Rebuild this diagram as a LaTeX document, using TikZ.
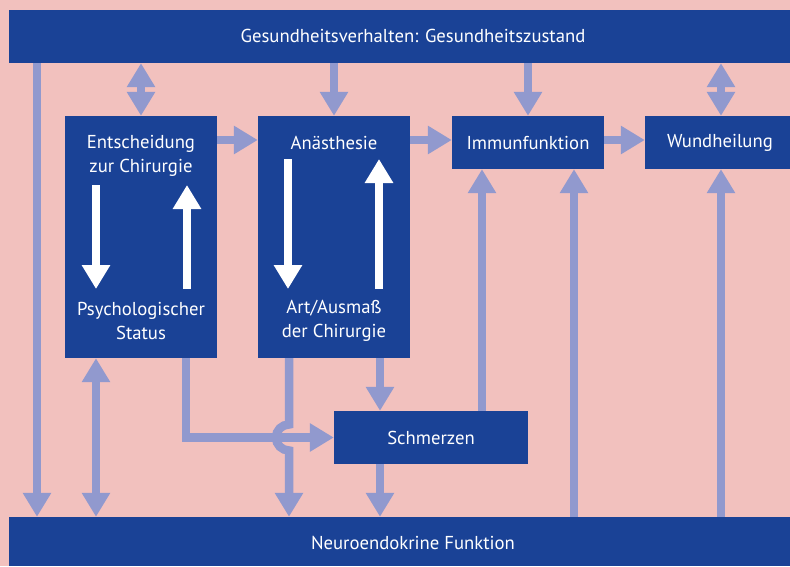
\documentclass[tikz,border=0pt]{standalone}
\usepackage{fontspec}
\setmainfont{PT Sans}
\usetikzlibrary{arrows.meta}
\definecolor{bg}{RGB}{242,193,190}
\definecolor{dblue}{RGB}{26,66,150}
\definecolor{arrc}{RGB}{145,153,206}
\tikzset{
  box/.style={fill=dblue, draw=none, inner sep=0pt},
  lbl/.style={text=white, font=\fontsize{18.7}{24.5}\selectfont, align=center, inner sep=0pt},
  conn/.style={draw=arrc, line width=8.5pt, -{Triangle[width=27pt,length=24pt]}},
  dconn/.style={draw=arrc, line width=8.5pt, {Triangle[width=27pt,length=24pt]}-{Triangle[width=27pt,length=24pt]}},
  wconn/.style={draw=white, line width=8pt, -{Triangle[width=27pt,length=24pt]}},
}
\begin{document}
\begin{tikzpicture}[x=1pt,y=-1pt]
\useasboundingbox (0,0) rectangle (790,566);
\fill[bg] (0,0) rectangle (790,566);
% boxes
\node[box, minimum width=781pt, minimum height=53pt] (top) at (399.5,36.5) {};
\node[box, minimum width=781pt, minimum height=49pt] (bot) at (399.5,541.5) {};
\node[box, minimum width=152pt, minimum height=242pt] (entsch) at (141,237) {};
\node[box, minimum width=152pt, minimum height=242pt] (anae) at (334,237) {};
\node[box, minimum width=152pt, minimum height=53pt] (immun) at (528,142.5) {};
\node[box, minimum width=145pt, minimum height=53pt] (wund) at (717.5,142.5) {};
\node[box, minimum width=194pt, minimum height=53pt] (schm) at (431,437.5) {};
% texts
\node[lbl] (tTop) at (413,36) {Gesundheitsverhalten: Gesundheitszustand};
\node[lbl] (tBot) at (413,543) {Neuroendokrine Funktion};
\node[lbl] (tE) at (141,156) {Entscheidung\\zur Chirurgie};
\node[lbl] (tP) at (141,321) {Psychologischer\\Status};
\node[lbl] (tA) at (334,143) {Anästhesie};
\node[lbl] (tR) at (334,321) {Art/Ausmaß\\der Chirurgie};
\node[lbl] (tI) at (528,143) {Immunfunktion};
\node[lbl] (tW) at (720,143) {Wundheilung};
\node[lbl] (tS) at (431,438) {Schmerzen};
% helper coordinates
\coordinate (x37) at (37,0);
\coordinate (x96) at (96,0);
\coordinate (x186) at (186,0);
\coordinate (x187) at (187,0);
\coordinate (x288) at (288,0);
\coordinate (x289) at (289,0);
\coordinate (x379) at (379,0);
\coordinate (x380) at (380,0);
\coordinate (x482) at (482,0);
\coordinate (x574) at (574,0);
\coordinate (x721) at (721,0);
\coordinate (yh) at (0,140);
\coordinate (wtopE) at (0,185);
\coordinate (wtopA) at (0,159);
\coordinate (wbot) at (0,289);
% blue connectors
\draw[conn] (top.south -| x37) -- (bot.north -| x37);
\draw[dconn] (top.south -| entsch.north) -- (entsch.north);
\draw[conn] (top.south -| anae.north) -- (anae.north);
\draw[conn] (top.south -| immun.north) -- (immun.north);
\draw[dconn] (top.south -| x721) -- (wund.north -| x721);
\draw[conn] (entsch.east |- yh) -- (anae.west |- yh);
\draw[conn] (anae.east |- yh) -- (immun.west |- yh);
\draw[conn] (immun.east |- yh) -- (wund.west |- yh);
\draw[conn] (schm.north -| x482) -- (immun.south -| x482);
\draw[conn] (bot.north -| x574) -- (immun.south -| x574);
\draw[conn] (bot.north -| x721) -- (wund.south -| x721);
\draw[dconn] (entsch.south -| x96) -- (bot.north -| x96);
\draw[conn] (entsch.south -| x186) |- (schm.west);
\draw[conn] (anae.south -| x289) -- ([yshift=13pt]x289 |- schm.west) arc(270:90:13) -- (bot.north -| x289);
\draw[conn] (anae.south -| x380) -- (schm.north -| x380);
\draw[conn] (schm.south -| x380) -- (bot.north -| x380);
% white arrows
\draw[wconn] (wtopE -| x96) -- (wbot -| x96);
\draw[wconn] (wbot -| x187) -- (wtopE -| x187);
\draw[wconn] (wtopA -| x288) -- (wbot -| x288);
\draw[wconn] (wbot -| x379) -- (wtopA -| x379);
\end{tikzpicture}
\end{document}
